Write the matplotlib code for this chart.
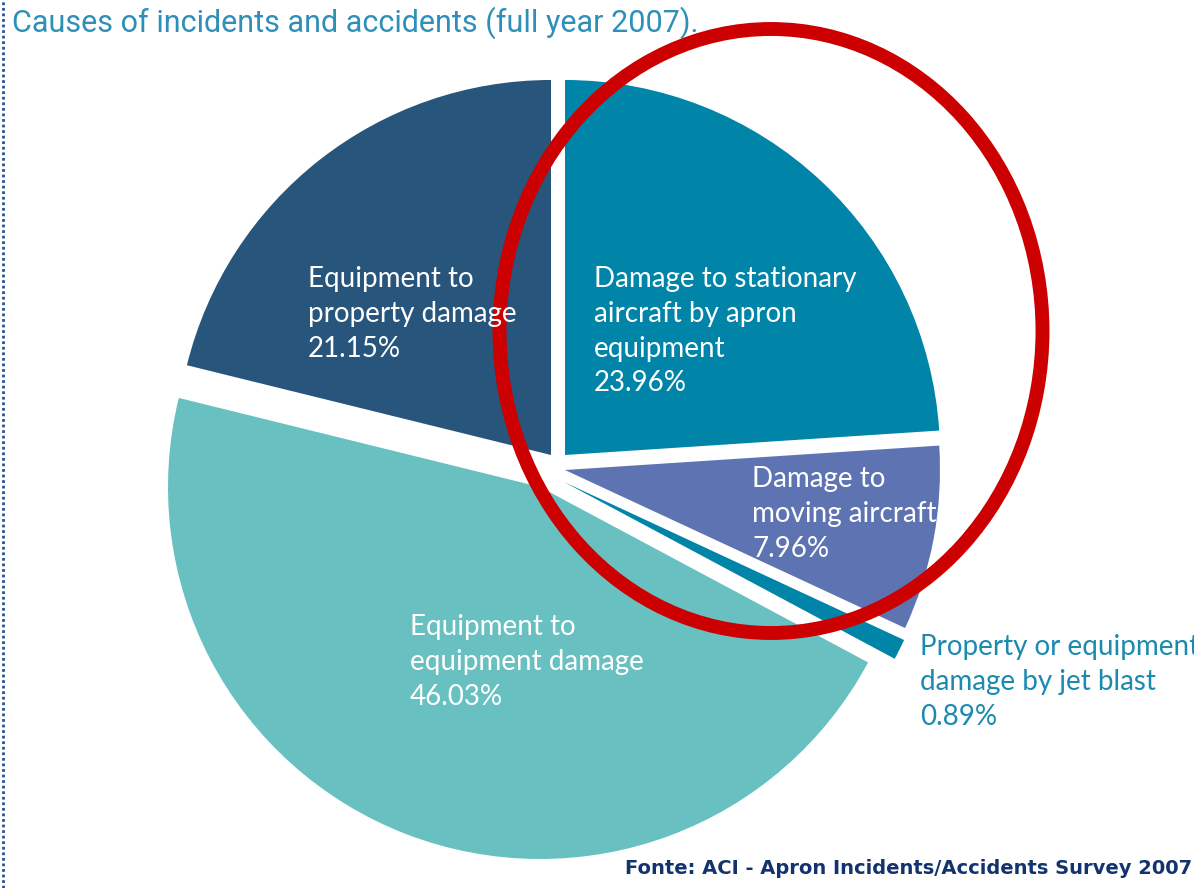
import matplotlib.pyplot as plt
from matplotlib.patches import Ellipse

# data, clockwise from 12 o'clock
causes = [
    "Damage to stationary\naircraft by apron\nequipment",
    "Damage to\nmoving aircraft",
    "Property or equipment\ndamage by jet blast",
    "Equipment to\nequipment damage",
    "Equipment to\nproperty damage",
]
shares = [23.96, 7.96, 0.89, 46.03, 21.15]

colors = ["#0084a8", "#5e74b2", "#0084a8", "#68c0c1", "#28557b"]
# each slice is pulled apart by hand in the original (pixel coords, y up)
centres = [(565, 433), (565, 418), (564, 406), (540, 401), (551, 433)]
radii = [375, 375, 375, 372, 375]
label_pos = [(594, 622), (752, 422), (920, 254), (410, 274), (308, 622)]
label_col = ["white", "white", "#1a8aaf", "white", "white"]

W, H = 1194, 888
fig = plt.figure(figsize=(W / 100, H / 100), dpi=100)
ax = fig.add_axes([0, 0, 1, 1])

wedges, _ = ax.pie(shares, startangle=90, counterclock=False, colors=colors,
                   wedgeprops=dict(linewidth=0))
for w, c, r in zip(wedges, centres, radii):
    w.set_center(c)
    w.set_radius(r)

for name, val, (x, y), col in zip(causes, shares, label_pos, label_col):
    ax.text(x, y, f"{name}\n{val:.2f}%", color=col, fontsize=20, family="Lato",
            ha="left", va="top", linespacing=1.42)

# red highlight ring
ax.add_patch(Ellipse((771, 557), 543, 604, fill=False, edgecolor="#cc0000",
                     linewidth=10))

ax.text(12, H - 23, "Causes of incidents and accidents (full year 2007).",
        color="#2e8fb8", fontsize=22, family="Roboto", fontweight="normal",
        ha="left", va="center")
ax.text(1192, H - 868, "Fonte: ACI - Apron Incidents/Accidents Survey 2007",
        color="#12336e", fontsize=14, fontweight="bold", family="DejaVu Sans",
        ha="right", va="center")

ax.axvline(3, color="#2a5190", linestyle=(0, (1, 1)), linewidth=2)

ax.set_xlim(0, W)
ax.set_ylim(0, H)
ax.set_aspect("auto")
ax.axis("off")

fig.savefig("out.png", dpi=100)
